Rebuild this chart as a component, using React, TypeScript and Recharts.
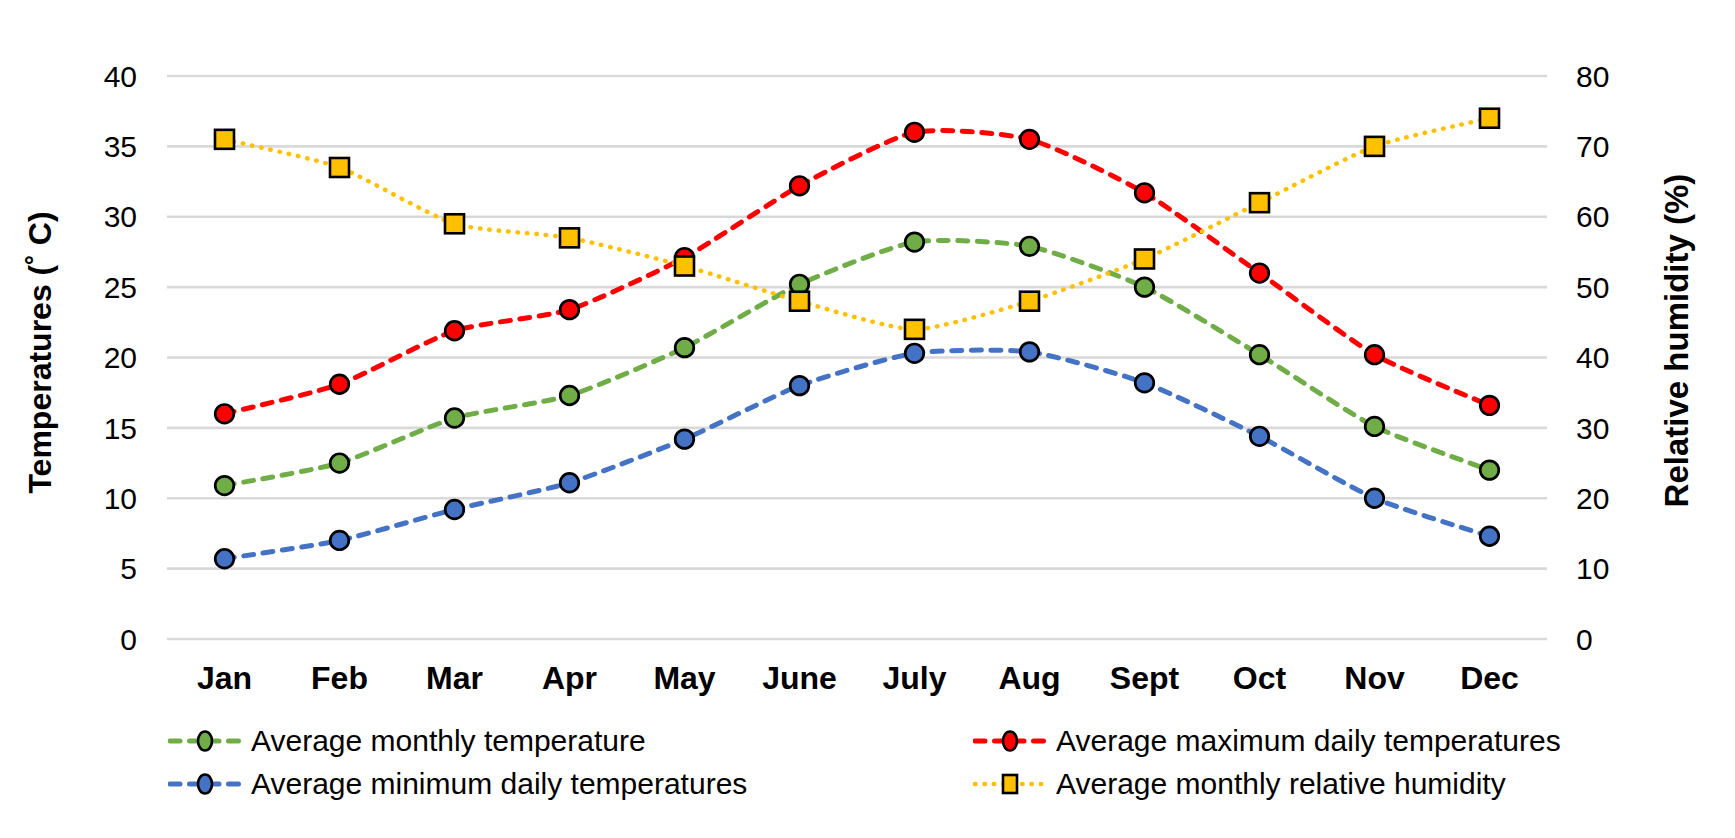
import React from 'react';
import { ComposedChart, Line, XAxis, YAxis, CartesianGrid, Legend, Label } from 'recharts';

const months = ['Jan', 'Feb', 'Mar', 'Apr', 'May', 'June', 'July', 'Aug', 'Sept', 'Oct', 'Nov', 'Dec'];
const avgTemp = [10.9, 12.5, 15.7, 17.3, 20.7, 25.2, 28.2, 27.9, 25.0, 20.2, 15.1, 12.0];
const maxTemp = [16.0, 18.1, 21.9, 23.4, 27.1, 32.2, 36.0, 35.5, 31.7, 26.0, 20.2, 16.6];
const minTemp = [5.7, 7.0, 9.2, 11.1, 14.2, 18.0, 20.3, 20.4, 18.2, 14.4, 10.0, 7.3];
const humidity = [71, 67, 59, 57, 53, 48, 44, 48, 54, 62, 70, 74];

const tempTicks = [0, 5, 10, 15, 20, 25, 30, 35, 40];
const humTicks = [0, 10, 20, 30, 40, 50, 60, 70, 80];

const data = months.map((m, i) => ({
  month: m,
  avg: avgTemp[i],
  max: maxTemp[i],
  min: minTemp[i],
  hum: humidity[i],
}));

const FONT = '"Liberation Sans", Arial, sans-serif';

const series = {
  avg: { name: 'Average monthly temperature', color: '#70AD47', dash: '10 9.5', width: 5, shape: 'circle', axis: 'left' },
  max: { name: 'Average maximum daily temperatures', color: '#FF0000', dash: '10 9.5', width: 5, shape: 'circle', axis: 'left' },
  min: { name: 'Average minimum daily temperatures', color: '#4472C4', dash: '10 9.5', width: 5, shape: 'circle', axis: 'left' },
  hum: { name: 'Average monthly relative humidity', color: '#FFC000', dash: '0.5 8.9', width: 4.5, shape: 'square', axis: 'right' },
};

// order the lines are painted in (humidity last, it sits on top)
const drawOrder = ['avg', 'min', 'max', 'hum'];
// legend reads row by row: green, red / blue, yellow
const legendOrder = ['avg', 'max', 'min', 'hum'];

// gentle Excel-like smoothing: low tension cardinal spline as cubic beziers
const TENSION = 0.1;
const smoothCurve = (context) => {
  let pts = [];
  return {
    areaStart() {},
    areaEnd() {},
    lineStart() { pts = []; },
    point(x, y) { pts.push([+x, +y]); },
    lineEnd() {
      if (!pts.length) return;
      context.moveTo(pts[0][0], pts[0][1]);
      for (let i = 0; i < pts.length - 1; i++) {
        const p0 = pts[i - 1] || pts[i];
        const p1 = pts[i];
        const p2 = pts[i + 1];
        const p3 = pts[i + 2] || p2;
        context.bezierCurveTo(
          p1[0] + (p2[0] - p0[0]) * TENSION, p1[1] + (p2[1] - p0[1]) * TENSION,
          p2[0] - (p3[0] - p1[0]) * TENSION, p2[1] - (p3[1] - p1[1]) * TENSION,
          p2[0], p2[1],
        );
      }
    },
  };
};

const makeDot = (key) => (props) => {
  const { cx, cy, index } = props;
  const s = series[key];
  if (cx == null || cy == null) return null;
  if (s.shape === 'square') {
    return <rect key={`${key}-${index}`} x={cx - 9.5} y={cy - 9.5} width={19} height={19} fill={s.color} stroke="#000" strokeWidth={2.6} />;
  }
  return <circle key={`${key}-${index}`} cx={cx} cy={cy} r={9.3} fill={s.color} stroke="#000" strokeWidth={2.7} />;
};

const Swatch = ({ k }) => {
  const s = series[k];
  return (
    <svg width={74} height={24} style={{ display: 'block' }}>
      <line x1={2} y1={12} x2={72} y2={12} stroke={s.color} strokeWidth={s.width} strokeDasharray={s.dash} strokeLinecap="round" />
      {s.shape === 'square'
        ? <rect x={37 - 7} y={12 - 9} width={14} height={18} fill={s.color} stroke="#000" strokeWidth={2.6} />
        : <ellipse cx={37} cy={12} rx={7} ry={9.5} fill={s.color} stroke="#000" strokeWidth={2.6} />}
    </svg>
  );
};

const legendPos = {
  avg: { left: 168, top: 42 },
  max: { left: 973, top: 42 },
  min: { left: 168, top: 85 },
  hum: { left: 973, top: 85 },
};

const renderLegend = () => (
  <div style={{ position: 'relative', width: 1735, height: 139, fontFamily: FONT, fontSize: 30, color: '#000' }}>
    {legendOrder.map((k) => (
      <div key={k} style={{ position: 'absolute', left: legendPos[k].left, top: legendPos[k].top - 18, height: 36, display: 'flex', alignItems: 'center', whiteSpace: 'nowrap' }}>
        <Swatch k={k} />
        <span style={{ marginLeft: 9 }}>{series[k].name}</span>
      </div>
    ))}
  </div>
);

const AxisTitle = ({ viewBox, text, dx, dy, size }) => {
  const cx = viewBox.x + dx;
  const cy = viewBox.y + viewBox.height / 2 + dy;
  return (
    <text x={cx} y={cy} transform={`rotate(-90 ${cx} ${cy})`} textAnchor="middle" dominantBaseline="central"
      fontFamily={FONT} fontSize={size} fontWeight="bold" fill="#000">
      {text}
    </text>
  );
};

export default function App() {
  return (
    <div style={{ position: 'absolute', left: 0, top: 0, width: 1735, height: 838, background: '#fff' }}>
      <ComposedChart width={1735} height={838} data={data} margin={{ top: 76, right: 0, bottom: 0, left: 0 }}>
        <CartesianGrid vertical={false} stroke="#D9D9D9" strokeWidth={2.7} yAxisId="left" />
        <XAxis dataKey="month" scale="band" axisLine={false} tickLine={false} tickSize={0} tickMargin={27} height={60}
          tick={{ fontFamily: FONT, fontSize: 32, fontWeight: 'bold', fill: '#000' }} interval={0} />
        <YAxis yAxisId="left" orientation="left" width={167} domain={[0, 40]} ticks={tempTicks}
          axisLine={false} tickLine={false} tickSize={0} tickMargin={30}
          tick={{ fontFamily: FONT, fontSize: 30, fill: '#000' }}>
          <Label content={(p) => <AxisTitle viewBox={p.viewBox} text="Temperatures (˚ C)" dx={40} dy={-5} size={32} />} />
        </YAxis>
        <YAxis yAxisId="right" orientation="right" width={188} domain={[0, 80]} ticks={humTicks}
          axisLine={false} tickLine={false} tickSize={0} tickMargin={29}
          tick={{ fontFamily: FONT, fontSize: 30, fill: '#000' }}>
          <Label content={(p) => <AxisTitle viewBox={p.viewBox} text="Relative humidity (%)" dx={129} dy={-17} size={33} />} />
        </YAxis>
        <Legend verticalAlign="bottom" content={renderLegend} wrapperStyle={{ left: 0, width: 1735 }} />
        {drawOrder.map((k) => (
          <Line key={k} yAxisId={series[k].axis} dataKey={k} name={series[k].name} type={smoothCurve}
            stroke={series[k].color} strokeWidth={series[k].width} strokeDasharray={series[k].dash}
            strokeLinecap="round" dot={makeDot(k)} activeDot={false} isAnimationActive={false} />
        ))}
      </ComposedChart>
    </div>
  );
}
